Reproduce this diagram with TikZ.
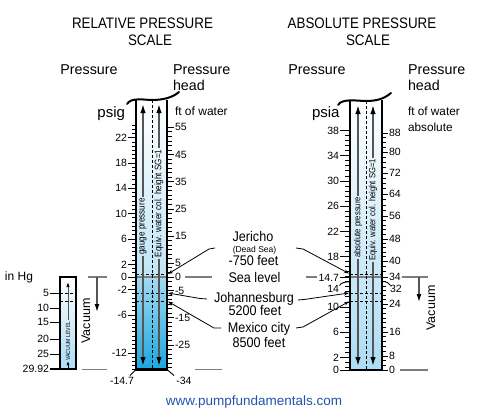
\documentclass[tikz,border=0pt]{standalone}
\usepackage{fontspec}
\setmainfont{Liberation Sans}
\newfontfamily\cf{Liberation Sans}[FakeStretch=0.85]
\newfontfamily\mf{Liberation Sans}[FakeStretch=0.9]
\newfontfamily\tf{Liberation Sans}[FakeStretch=0.88]
\usetikzlibrary{arrows.meta}
\definecolor{urlblue}{RGB}{34,85,170}
\definecolor{seagray}{RGB}{125,125,125}
\definecolor{shaftgray}{RGB}{85,85,85}
\definecolor{lightblue}{RGB}{192,229,247}
\definecolor{midblue}{RGB}{165,217,242}
\definecolor{deepblue}{RGB}{26,167,222}
\definecolor{absblue}{RGB}{172,220,244}
\begin{document}
\begin{tikzpicture}[x=1pt,y=-1pt,
  every node/.style={inner sep=0pt, outer sep=0pt},
  titletxt/.style={font=\tf\fontsize{15.2}{17}\selectfont},
  headtxt/.style={font=\fontsize{14.3}{16}\selectfont},
  unittxt/.style={font=\fontsize{12}{14}\selectfont},
  ticktxt/.style={font=\fontsize{10.5}{12}\selectfont},
  placetxt/.style={font=\mf\fontsize{14}{16}\selectfont},
  smalltxt/.style={font=\fontsize{8.5}{10}\selectfont},
  tubetxt/.style={font=\cf\fontsize{9.5}{11}\selectfont, rotate=90, inner sep=1.5pt},
  vactxt/.style={font=\fontsize{12.5}{14}\selectfont, rotate=90},
  tk/.style={line width=0.9pt},
  tubeedge/.style={line width=2.4pt, line join=miter},
  capline/.style={line width=2pt, line cap=round},
  midline/.style={line width=0.8pt, dash pattern=on 3pt off 2pt},
  lvldash/.style={line width=0.9pt, dash pattern=on 3pt off 2pt},
  lvlgray/.style={line width=1.5pt, draw=seagray},
  shaft/.style={line width=1.6pt, draw=shaftgray, -{Latex[length=9pt,width=5.5pt,color=black]}},
  vshaft/.style={line width=1.3pt, draw=shaftgray, -{Latex[length=8pt,width=5pt,color=black]}},
  leader/.style={line width=0.8pt, -{Stealth[length=5pt,width=3.5pt]}},
]
\useasboundingbox (0,0) rectangle (477,418);

% ---------- titles ----------
\node[titletxt, anchor=base] (t1) at (142.5,28.5) {RELATIVE PRESSURE};
\node[titletxt, anchor=base] (t1b) at (150,45.5) {SCALE};
\node[titletxt, anchor=base] (t2) at (362,28.5) {ABSOLUTE PRESSURE};
\node[titletxt, anchor=base] (t2b) at (368,45.5) {SCALE};

\node[headtxt, anchor=base] (h1) at (89,74) {Pressure};
\node[headtxt, anchor=base west] (h2) at (173,74) {Pressure};
\node[headtxt, anchor=base west] (h2b) at (173,90) {head};
\node[headtxt, anchor=base] (h3) at (317,74) {Pressure};
\node[headtxt, anchor=base west] (h4) at (408,74) {Pressure};
\node[headtxt, anchor=base west] (h4b) at (408,90) {head};
\node[headtxt, font=\fontsize{15}{17}\selectfont, anchor=base east] (psig) at (125,117) {psig};
\node[headtxt, font=\fontsize{15}{17}\selectfont, anchor=base west] (psia) at (312,117) {psia};
\node[unittxt, anchor=base west] (ftw1) at (175,115) {ft of water};
\node[unittxt, anchor=base west, font=\fontsize{11.8}{14}\selectfont] (ftw2) at (408,115) {ft of water};
\node[unittxt, anchor=base west, font=\fontsize{11.8}{14}\selectfont] (ftabs) at (408,131) {absolute};

% ---------- fills ----------
\shade[top color=white, bottom color=lightblue] (136,100) rectangle (167,277);
\shade[top color=midblue, bottom color=deepblue] (136,277) rectangle (167,369.5);
\shade[top color=white, bottom color=absblue] (350,100) rectangle (382,370);
\shade[top color=white, bottom color=absblue] (60,277) rectangle (76,369);

% ---------- level lines ----------
\foreach \xa/\xb in {136/167,350/382}{
  \draw[lvldash] (\xa,274) -- (\xb,274);
}
\foreach \xa/\xb in {136/167,350/382,60/76}{
  \draw[lvldash] (\xa,293) -- (\xb,293);
  \draw[lvldash] (\xa,301) -- (\xb,301);
}
\draw[lvlgray] (136,277) -- (167,277);
\draw[lvlgray] (350,277) -- (382,277);
\draw[lvlgray] (185,277) -- (212,277);
\draw[lvlgray] (306,277) -- (317,277);
\draw[lvlgray] (88,277) -- (107,277);
\draw[lvlgray] (402,277) -- (428,277);
\draw[lvlgray] (82,369.5) -- (107,369.5);
\draw[lvlgray] (195,369.5) -- (222,369.5);
\draw[lvlgray] (400,370) -- (428,370);

% centre dashed lines
\draw[midline] (152,100) -- (152,369);
\draw[midline] (366,101) -- (366,370);

% ---------- relative tube ticks ----------
\foreach \k in {-22,...,36} \draw[tk] (136,{277-(\k)*4.22}) -- ++(-4,0);
\foreach \p in {22,18,14,10,6,2,0,-2,-6,-12}
  \draw[tk] (136,{277-(\p)*6.33}) -- (128,{277-(\p)*6.33})
     node[ticktxt, anchor=east, xshift=-1pt] (rl\p) {\p};
\foreach \k in {-20,...,33} \draw[tk] (167,{277-(\k)*4.533}) -- ++(5,0);
\foreach \f in {55,45,35,25,15,5,0,-5,-15,-25}
  \draw[tk] (167,{277-(\f)*2.72}) -- (174,{277-(\f)*2.72})
     node[ticktxt, anchor=west, xshift=1pt] (rr\f) {\f};
\draw[tk] (136,369.5) -- (130,375.5);
\node[ticktxt] (rlbot) at (122,381) {-14.7};
\draw[tk] (167,369.5) -- (174,375.5);
\node[ticktxt] (rrbot) at (184,381) {-34};

% ---------- absolute tube ticks ----------
\foreach \k in {0,...,47} \draw[tk] (350,{370-(38-0.8*\k)*6.3}) -- ++(-5,0);
\foreach \p in {38,34,30,26,22,18,10,6,2}
  \draw[tk] (350,{370-(\p)*6.3}) -- (340,{370-(\p)*6.3})
     node[ticktxt, anchor=east, xshift=-1pt] (al\p) {\p};
\draw[tk] (350,277.4) -- (340,277.4) node[ticktxt, anchor=east, xshift=-1pt] (al147) {14.7};
\draw[tk] (350,370) -- (340,370) node[ticktxt, anchor=east, xshift=-1pt] (al0) {0};
\node[ticktxt, anchor=east] (al14) at (339,289) {14};
\draw[tk] (350,281.8) .. controls (344,281.8) and (341,283) .. (339.5,285.5);

\foreach \f/\y in {88/133,80/152,72/173,64/194,56/216,48/239,40/261,34/277,24/304,16/332,8/356,0/370}
  \draw[tk] (382,\y) -- (388,\y) node[ticktxt, anchor=west, xshift=1pt] (ar\f) {\f};
\foreach \a/\b/\m in {133/152/3,152/173/3,173/194/3,194/216/3,216/239/4,239/261/4,261/277/2,277/304/5,304/332/5,332/356/4,356/370/2}
  \foreach \i in {1,...,\m} \draw[tk] (382,{\a+(\b-\a)*\i/(\m+1)}) -- ++(4,0);
\node[ticktxt, anchor=west] (ar32) at (390,289) {32};
\draw[tk] (382,281.5) .. controls (387,281.5) and (389,283) .. (390.5,285.5);

% ---------- arrows in tubes ----------
\node[tubetxt] (gp) at (143,226.5) {gauge pressure};
\node[tubetxt] (eq1) at (159,203.5) {Equiv. water col. height SG=1};
\coordinate (gpT) at (143,104); \coordinate (gpB) at (143,366);
\coordinate (eq1T) at (159,104); \coordinate (eq1B) at (159,366);
\draw[shaft] (gp.east) -- (gpT);
\draw[shaft] (gp.west) -- (gpB);
\draw[shaft] (eq1.east) -- (eq1T);
\draw[shaft] (eq1.west) -- (eq1B);

\node[tubetxt, font=\cf\fontsize{9}{11}\selectfont] (ap) at (358,227.5) {absolute pressure};
\node[tubetxt, font=\cf\fontsize{9}{11}\selectfont] (eq2) at (373,210) {Equiv. water col. height SG=1};
\coordinate (apT) at (358,105); \coordinate (apB) at (358,366);
\coordinate (eq2T) at (373,105); \coordinate (eq2B) at (373,366);
\draw[shaft] (ap.east) -- (apT);
\draw[shaft] (ap.west) -- (apB);
\draw[shaft] (eq2.east) -- (eq2T);
\draw[shaft] (eq2.west) -- (eq2B);

% ---------- tube edges and caps ----------
\draw[tubeedge] (136,100) -- (136,369.5) -- (167,369.5) -- (167,100);
\draw[capline] (127,104) .. controls (131,97) and (145,100) .. (152,100) .. controls (162,100) and (172,98) .. (179,92);
\draw[tubeedge] (350,101) -- (350,370) -- (382,370) -- (382,100);
\draw[capline] (338,105) .. controls (342,98) and (358,101) .. (366,101) .. controls (376,101) and (384,99) .. (391,93);

% ---------- vacuum column (in Hg) ----------
\node[font=\cf\fontsize{6}{7}\selectfont, rotate=90, inner sep=1.5pt] (vl) at (68,341) {VACUUM LEVEL};
\coordinate (vlT) at (68,282);
\draw[line width=1pt, draw=shaftgray, -{Latex[length=5pt,width=3.5pt,color=black]}] (vl.east) -- (vlT);
\coordinate (vlB0) at (68,368); \coordinate (vlB1) at (68,361);
\draw[line width=1pt, -{Latex[length=4pt,width=3pt]}] (vlB0) -- (vlB1);
\draw[line width=2pt] (60,277) rectangle (76,369);
\foreach \v/\y in {5/293,10/308,15/322,20/339,25/354}
  \draw[tk] (60,\y) -- (50,\y) node[ticktxt, anchor=east, xshift=-1pt] (vh\v) {\v};
\draw[line width=2pt] (60,369) -- (50,369) node[ticktxt, anchor=east, xshift=-1pt] (vh2992) {29.92};
\node[unittxt, anchor=west] (inhg) at (5,277) {in Hg};

% ---------- vacuum arrows ----------
\coordinate (vLa) at (97,277); \coordinate (vLb) at (97,312);
\draw[vshaft] (vLa) -- (vLb);
\node[vactxt] (vacL) at (86,321) {Vacuum};
\coordinate (vRa) at (419,277); \coordinate (vRb) at (419,302);
\draw[vshaft] (vRa) -- (vRb);
\node[vactxt] (vacR) at (431,308) {Vacuum};

% ---------- place labels ----------
\node[placetxt, anchor=base] (jer) at (253,241) {Jericho};
\node[smalltxt, anchor=base] (dead) at (254.5,252) {(Dead Sea)};
\node[placetxt, anchor=base] (jerft) at (253.5,265) {-750 feet};
\node[placetxt, anchor=base] (sea) at (254.5,282) {Sea level};
\node[placetxt, anchor=base] (joh) at (254,302) {Johannesburg};
\node[placetxt, anchor=base] (johft) at (255,315) {5200 feet};
\node[placetxt, anchor=base] (mex) at (259,332.5) {Mexico city};
\node[placetxt, anchor=base] (mexft) at (259,347) {8500 feet};

\coordinate (jlA) at (215,248); \coordinate (jlB) at (209,249);
\coordinate (jrA) at (296,248); \coordinate (jrB) at (303,249);
\draw[leader] (jlA) -- (jlB) -- (168,274);
\draw[leader] (jrA) -- (jrB) -- (349,273.5);
\coordinate (olA) at (207,299); \coordinate (olB) at (200,298.5);
\coordinate (orA) at (298,300); \coordinate (orB) at (304,299.5);
\draw[leader] (olA) -- (olB) -- (168,293);
\draw[leader] (orA) -- (orB) -- (349,293);
\coordinate (mlA) at (221,328); \coordinate (mlB) at (214,328);
\coordinate (mrA) at (296,328); \coordinate (mrB) at (303,327);
\draw[leader] (mlA) -- (mlB) -- (168,301.5);
\draw[leader] (mrA) -- (mrB) -- (349,301.5);

% ---------- url ----------
\node[font=\fontsize{13.5}{16}\selectfont, text=urlblue, anchor=base] (url) at (254,405) {www.pumpfundamentals.com};
\end{tikzpicture}
\end{document}
